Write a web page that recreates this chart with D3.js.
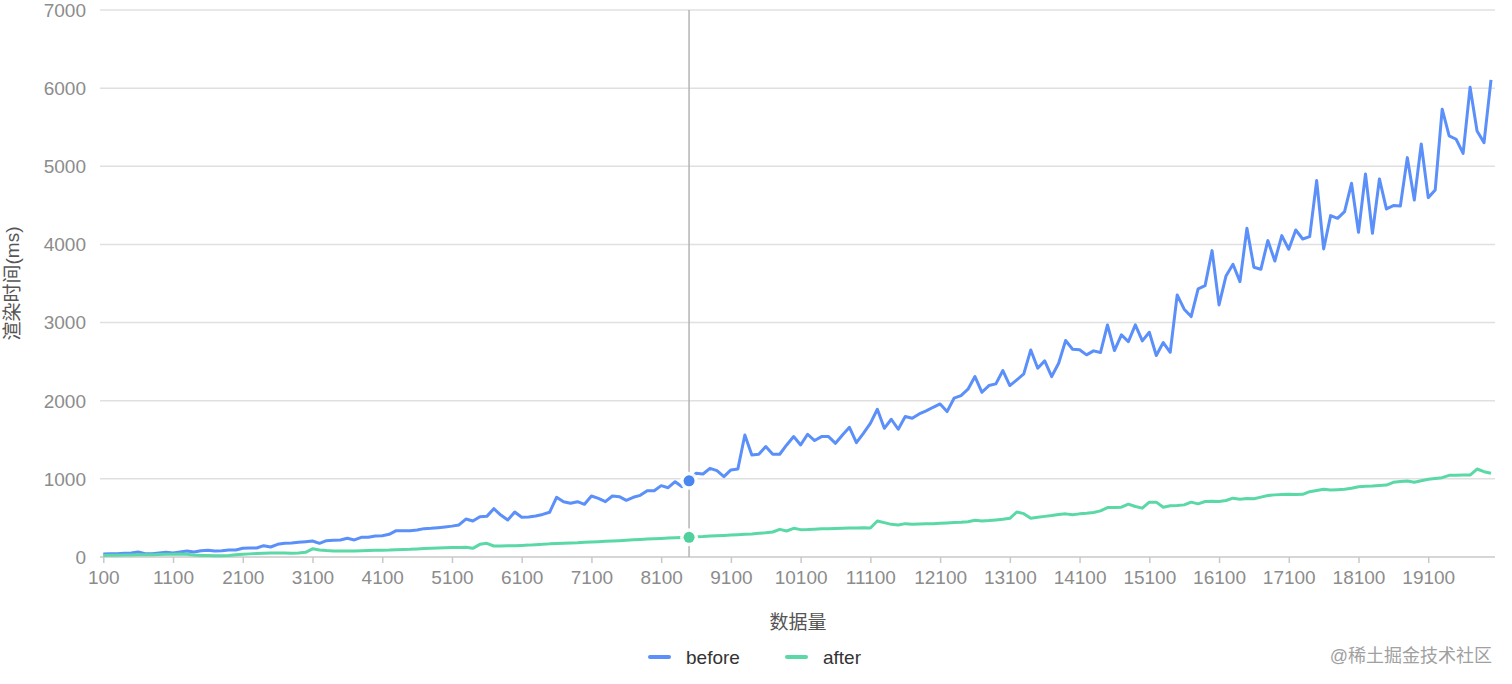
<!DOCTYPE html>
<html><head><meta charset="utf-8">
<script src="https://cdn.jsdelivr.net/npm/d3@7"></script>
<style>
html,body{margin:0;padding:0;background:#fff;}
svg{display:block;font-family:"Liberation Sans","Noto Sans CJK SC",Arial,sans-serif;}
</style></head>
<body>
<svg id="chart" width="1512" height="684"></svg>
<script>
const categories = d3.range(100, 20001, 100).map(String);
const tickLabels = ["100","1100","2100","3100","4100","5100","6100","7100","8100","9100","10100","11100","12100","13100","14100","15100","16100","17100","18100","19100"];
const yTicks = [0,1000,2000,3000,4000,5000,6000,7000];
const seriesNames = ["before","after"];
const before = [
38,43,43,47,51,64,43,43,51,60,51,64,77,64,81,85,77,81,90,90,
111,115,115,145,128,162,175,179,188,196,205,175,209,213,218,239,218,252,252,269,
273,290,337,337,337,345,363,367,375,385,395,410,486,460,516,520,618,537,473,576,
508,512,525,545,572,764,708,687,708,674,781,751,708,781,772,725,764,789,849,849,
913,887,964,900,975,1071,1062,1135,1105,1028,1114,1127,1562,1306,1315,1413,1315,1315,1434,1541,
1434,1571,1490,1541,1541,1455,1562,1660,1464,1583,1711,1891,1647,1763,1635,1797,1776,1831,1869,1916,
1959,1861,2032,2066,2147,2309,2108,2194,2215,2386,2194,2266,2343,2650,2416,2510,2309,2480,2770,2659,
2651,2587,2638,2616,2970,2642,2842,2757,2970,2766,2876,2578,2744,2620,3354,3171,3077,3431,3473,3921,
3226,3597,3746,3524,4207,3708,3682,4049,3788,4113,3938,4185,4070,4100,4817,3942,4369,4334,4420,4782,
4155,4902,4143,4838,4454,4497,4492,5111,4569,5286,4599,4697,5730,5388,5346,5166,6011,5452,5303,6105
];
const after = [
20,22,22,25,25,28,30,30,32,35,35,38,35,25,20,18,15,15,20,30,
35,40,45,48,50,52,50,48,52,60,105,90,82,78,77,77,78,80,82,85,
86,88,92,95,98,103,108,111,115,118,120,122,124,111,162,175,141,142,143,145,
148,152,158,162,168,172,175,178,182,188,192,196,200,205,209,214,220,225,230,235,
238,242,245,248,252,258,262,269,272,276,280,285,290,295,303,310,320,354,333,367,
350,352,356,360,363,366,368,370,372,374,371,461,440,418,410,427,420,422,425,427,
432,436,440,444,452,470,462,466,474,482,495,576,555,495,510,520,530,545,552,540,
552,560,570,590,633,633,637,676,646,625,702,702,637,655,659,667,702,680,710,712,
710,723,753,740,749,746,766,787,795,800,802,800,802,836,850,866,857,862,866,880,
900,905,909,915,921,956,965,973,956,975,994,1005,1015,1045,1047,1049,1049,1126,1092,1071
];
const colors = ["#5B8FF9","#5AD8A6"];
const hoverIndex = 84;

const svg = d3.select("#chart");
const gridLeft = 100, gridRight = 1495, plotTop = 10, plotBottom = 557;
const x = d3.scalePoint().domain(categories).range([103.3, 1491]);
const y = d3.scaleLinear().domain([0,7000]).range([plotBottom, plotTop]);

// grid lines
svg.append("g").selectAll("line").data(yTicks.filter(d=>d>0)).join("line")
  .attr("x1", gridLeft).attr("x2", gridRight)
  .attr("y1", d=>y(d)).attr("y2", d=>y(d))
  .attr("stroke", "#e0e0e0").attr("stroke-width", 1.5);

// y labels
svg.append("g").selectAll("text").data(yTicks).join("text")
  .attr("x", 86).attr("y", d=>y(d)).attr("dy", "0.36em")
  .attr("text-anchor", "end").attr("font-size", 19).attr("fill", "#8c8c8c")
  .text(d=>d);

// x axis
const xAxis = d3.axisBottom(x).tickValues(tickLabels).tickSize(6).tickPadding(8);
const gx = svg.append("g").attr("transform", `translate(0,${plotBottom})`).call(xAxis);
gx.select(".domain").remove();
gx.append("line").attr("x1", gridLeft).attr("x2", gridRight).attr("y1",0).attr("y2",0)
  .attr("stroke", "#c8c8c8").attr("stroke-width", 1.5);
gx.selectAll(".tick line").attr("stroke", "#c8c8c8").attr("stroke-width", 1.5);
gx.selectAll(".tick text").attr("font-size", 19).attr("fill", "#8c8c8c")
  .attr("font-family", "Liberation Sans, Arial, sans-serif");

// crosshair
svg.append("line").attr("x1", x(categories[hoverIndex])).attr("x2", x(categories[hoverIndex]))
  .attr("y1", plotTop).attr("y2", plotBottom).attr("stroke", "#b4b4b4").attr("stroke-width", 1.5);

// lines
const line = d3.line().x((d,i)=>x(categories[i])).y(d=>y(d));
[before, after].forEach((s, k) => {
  svg.append("path").datum(s).attr("d", line)
    .attr("fill", "none").attr("stroke", colors[k]).attr("stroke-width", 3)
    .attr("stroke-linejoin", "round");
});

// hover dots
[before, after].forEach((s, k) => {
  svg.append("circle").attr("cx", x(categories[hoverIndex])).attr("cy", y(s[hoverIndex]))
    .attr("r", 9).attr("fill", "#fff").attr("opacity", 0.9);
  svg.append("circle").attr("cx", x(categories[hoverIndex])).attr("cy", y(s[hoverIndex]))
    .attr("r", 5.5).attr("fill", k===0 ? "#4a86f0" : "#4fd09c");
});

// axis names
svg.append("text").attr("transform", `translate(19,${(plotTop+plotBottom)/2}) rotate(-90)`)
  .attr("text-anchor", "middle").attr("font-size", 19).attr("fill", "#555")
  .text("渲染时间(ms)");
svg.append("text").attr("x", 798).attr("y", 629).attr("text-anchor", "middle")
  .attr("font-size", 19).attr("fill", "#555").text("数据量");

// legend
const legendX = [650, 787];
seriesNames.forEach((n, k) => {
  const g = svg.append("g").attr("transform", `translate(${legendX[k]},657)`);
  g.append("line").attr("x1", 0).attr("x2", 19).attr("y1", 0).attr("y2", 0)
    .attr("stroke", colors[k]).attr("stroke-width", 4).attr("stroke-linecap", "round");
  g.append("text").attr("x", 36).attr("y", 0).attr("dy", "0.36em")
    .attr("font-size", 19).attr("fill", "#333").text(n);
});

// watermark
svg.append("text").attr("x", 1492).attr("y", 662).attr("text-anchor", "end")
  .attr("font-size", 18).attr("fill", "#a0a0a0").text("@稀土掘金技术社区");
</script>
</body></html>
